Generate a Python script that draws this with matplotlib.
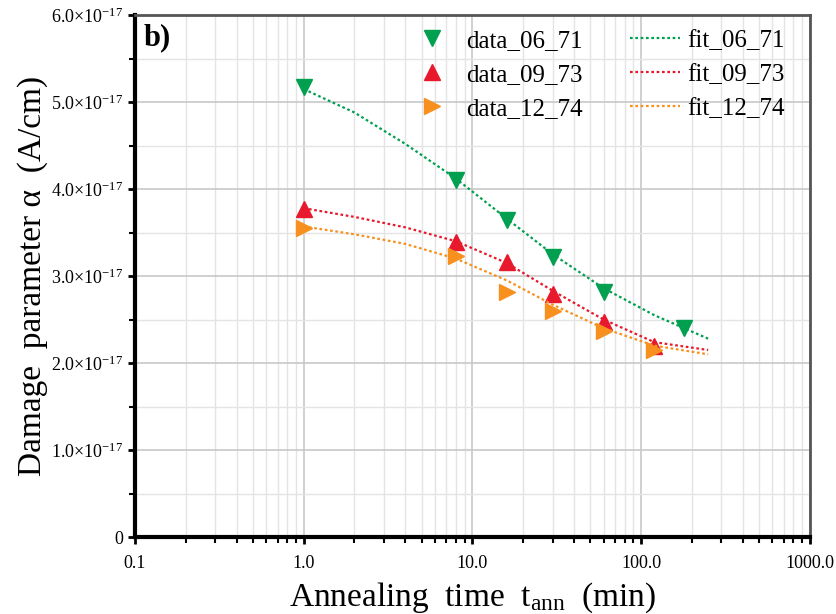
import numpy as np
import matplotlib
matplotlib.use("Agg")
import matplotlib.pyplot as plt
from matplotlib.ticker import FixedLocator, FuncFormatter, LogLocator, NullFormatter

plt.rcParams['font.family'] = ['Liberation Serif', 'DejaVu Serif']
plt.rcParams['mathtext.fontset'] = 'custom'
plt.rcParams['mathtext.rm'] = 'Liberation Serif'
plt.rcParams['mathtext.it'] = 'Liberation Serif:italic'

# ----- data (alpha in units of 1e-17 A/cm) -----
t_06 = [1, 8, 16, 30, 60, 180]
a_06 = [5.17, 4.10, 3.64, 3.22, 2.82, 2.40]
t_09 = [1, 8, 16, 30, 60, 120]
a_09 = [3.77, 3.39, 3.16, 2.79, 2.47, 2.20]
t_12 = [1, 8, 16, 30, 60, 120]
a_12 = [3.55, 3.23, 2.82, 2.60, 2.37, 2.15]

t_fit = [1, 2, 4, 8, 16, 30, 60, 120, 250]
fit_06 = [5.15, 4.88, 4.52, 4.12, 3.66, 3.25, 2.86, 2.55, 2.28]
fit_09 = [3.78, 3.68, 3.56, 3.40, 3.15, 2.83, 2.50, 2.24, 2.15]
fit_12 = [3.57, 3.48, 3.37, 3.20, 2.95, 2.67, 2.40, 2.20, 2.10]

green = '#00a050'
red = '#e8192c'
orange = '#f7901e'
scale = 1e-17

fig = plt.figure(figsize=(8.36, 6.14), dpi=100)
ax = fig.add_axes([0.1615, 0.1254, 0.807, 0.850])

d1, = ax.plot(t_06, np.array(a_06) * scale, 'v', color=green, ms=12, ls='none', label='data_06_71')
d2, = ax.plot(t_09, np.array(a_09) * scale, '^', color=red, ms=12, ls='none', label='data_09_73')
d3, = ax.plot(t_12, np.array(a_12) * scale, '>', color=orange, ms=12, ls='none', label='data_12_74')
f1, = ax.plot(t_fit, np.array(fit_06) * scale, ls=(0, (1.2, 1.2)), color=green, lw=1.6, label='fit_06_71')
f2, = ax.plot(t_fit, np.array(fit_09) * scale, ls=(0, (1.2, 1.2)), color=red, lw=1.6, label='fit_09_73')
f3, = ax.plot(t_fit, np.array(fit_12) * scale, ls=(0, (1.2, 1.2)), color=orange, lw=1.6, label='fit_12_74')

ax.set_xscale('log')
ax.set_xlim(0.1, 1000)
ax.set_ylim(0, 6e-17)

ax.xaxis.set_major_locator(FixedLocator([0.1, 1, 10, 100, 1000]))
ax.xaxis.set_major_formatter(FuncFormatter(lambda v, p: '%.1f' % v))
ax.xaxis.set_minor_locator(LogLocator(base=10, subs=np.arange(2, 10)))
ax.xaxis.set_minor_formatter(NullFormatter())

yt = np.arange(0, 7) * scale
ax.yaxis.set_major_locator(FixedLocator(yt))
ax.yaxis.set_minor_locator(FixedLocator(np.arange(0.5, 6, 1.0) * scale))


def yfmt(v, p):
    n = v / scale
    if abs(n) < 1e-6:
        return '0'
    return '%.1f$\\times$10$^{-17}$' % n


ax.yaxis.set_major_formatter(FuncFormatter(yfmt))
ax.tick_params(axis='both', which='major', labelsize=13, direction='out', length=5, width=2)
ax.tick_params(axis='both', which='minor', direction='out', length=4, width=1.5)
ax.tick_params(axis='x', pad=8)

ax.grid(True, which='major', color='#c8c8c8', lw=1.2)
ax.grid(True, which='minor', color='#e4e4e4', lw=1.0)
ax.set_axisbelow(True)

for s in ['left', 'bottom']:
    ax.spines[s].set_linewidth(3)
for s in ['top', 'right']:
    ax.spines[s].set_linewidth(2)
    ax.spines[s].set_color('#555555')

ax.set_xlabel('Annealing  time  t$_{\\mathrm{ann}}$  (min)', fontsize=24, labelpad=6)
ax.set_ylabel('Damage  parameter \u03b1  (A/cm)', fontsize=24, labelpad=2)

ax.text(0.012, 0.985, 'b)', transform=ax.transAxes, fontsize=22, fontweight='bold',
        va='top', ha='left')

# two legend blocks: markers on the left, fit lines on the right
leg1 = ax.legend(handles=[d1, d2, d3], loc='upper left', bbox_to_anchor=(0.415, 0.972),
                 frameon=False, fontsize=18, handlelength=1.4, handletextpad=0.65,
                 labelspacing=0.45, borderpad=0, borderaxespad=0)
ax.add_artist(leg1)
ax.legend(handles=[f1, f2, f3], loc='upper left', bbox_to_anchor=(0.733, 0.972),
          frameon=False, fontsize=18, handlelength=2.0, handletextpad=0.3,
          labelspacing=0.45, borderpad=0, borderaxespad=0)

fig.savefig('out.png', dpi=100)
